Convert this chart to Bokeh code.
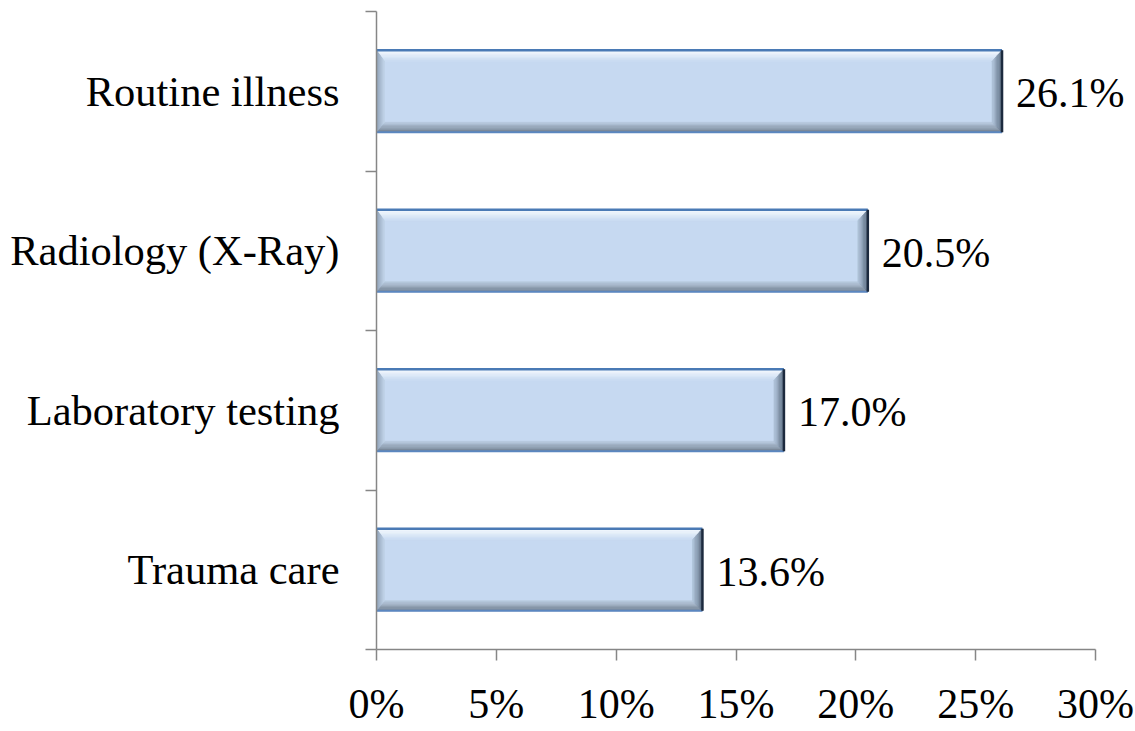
from bokeh.plotting import figure
from bokeh.models import Range1d, FixedTicker, PrintfTickFormatter
from bokeh.core.properties import value
from bokeh.embed import file_html
from bokeh.resources import INLINE

categories = ["Trauma care", "Laboratory testing", "Radiology (X-Ray)", "Routine illness"]
values = [13.6, 17.0, 20.5, 26.1]
x_ticks = [0, 5, 10, 15, 20, 25, 30]

FONT = "Liberation Serif"
FS = "42px"
FS_CAT = "42.5px"

W, H = 1134, 730
ML, MR, MT, MB = 376, 1, 11, 81
AXIS_SPAN_PX = 719          # pixel width of the 0..30 axis span
x_max = 30
n = len(categories)

px_x = AXIS_SPAN_PX / x_max
x_end = (W - ML - MR) / px_x

p = figure(width=W, height=H, output_backend="svg", toolbar_location=None,
           x_range=Range1d(0, x_end), y_range=Range1d(0, n),
           min_border_left=ML, min_border_right=MR, min_border_top=MT, min_border_bottom=MB)
p.outline_line_color = None
p.grid.visible = False
p.background_fill_color = "white"
p.border_fill_color = "white"

px_y = (H - MT - MB) / n

bar_h = 82 / px_y
centers = [i + 0.5 for i in range(n)]
lefts = [0] * n
bottoms = [c - bar_h / 2 for c in centers]
tops = [c + bar_h / 2 for c in centers]

# base fill
p.quad(left=lefts, right=values, bottom=bottoms, top=tops,
       fill_color="#c6d9f1", line_color=None)

def lerp(c1, c2, t):
    a = [int(c1[i:i + 2], 16) for i in (1, 3, 5)]
    b = [int(c2[i:i + 2], 16) for i in (1, 3, 5)]
    return "#%02x%02x%02x" % tuple(round(a[k] + (b[k] - a[k]) * t) for k in range(3))

dl, dr, dt, db = 8 / px_x, 10 / px_x, 11 / px_y, 10 / px_y
K = 8
sides = {
    "top": ("#fafdff", "#c8dbf2"),
    "bottom": ("#6e7b8b", "#b9cbe0"),
    "left": ("#8a9bb0", "#c0d3e9"),
    "right": ("#56667b", "#b3c6dc"),
}
xs, ys, cols = [], [], []
for v, b, t in zip(values, bottoms, tops):
    for side, (co, ci) in sides.items():
        for k in range(K):
            f0, f1 = k / K, (k + 1) / K
            col = lerp(co, ci, (k + 0.5) / K)
            if side == "top":
                px = [0 + f0 * dl, v - f0 * dr, v - f1 * dr, 0 + f1 * dl]
                py = [t - f0 * dt, t - f0 * dt, t - f1 * dt, t - f1 * dt]
            elif side == "bottom":
                px = [0 + f0 * dl, v - f0 * dr, v - f1 * dr, 0 + f1 * dl]
                py = [b + f0 * db, b + f0 * db, b + f1 * db, b + f1 * db]
            elif side == "left":
                px = [0 + f0 * dl, 0 + f0 * dl, 0 + f1 * dl, 0 + f1 * dl]
                py = [b + f0 * db, t - f0 * dt, t - f1 * dt, b + f1 * db]
            else:
                px = [v - f0 * dr, v - f0 * dr, v - f1 * dr, v - f1 * dr]
                py = [b + f0 * db, t - f0 * dt, t - f1 * dt, b + f1 * db]
            xs.append(px)
            ys.append(py)
            cols.append(col)
p.patches(xs, ys, fill_color=cols, line_color=cols, line_width=0.5)

# outlines
p.segment(x0=lefts, y0=tops, x1=values, y1=tops, line_color="#4a7ab5", line_width=2.5)
p.segment(x0=lefts, y0=bottoms, x1=values, y1=bottoms, line_color="#5b87c0", line_width=2)
p.segment(x0=values, y0=bottoms, x1=values, y1=tops, line_color="#1c2a3e", line_width=2.5)

# value labels
p.text(x=values, y=centers, text=[f"{v:.1f}%" for v in values],
       x_offset=14, y_offset=2, text_baseline="middle", text_align="left",
       text_font=value(FONT), text_font_size=FS, text_color="black")

AX = "#868686"
# y axis
ya = p.yaxis[0]
ya.ticker = FixedTicker(ticks=centers, minor_ticks=list(range(n + 1)))
ya.major_label_overrides = {c: lab for c, lab in zip(centers, categories)}
ya.major_tick_out = 0
ya.major_tick_in = 0
ya.minor_tick_out = 11
ya.minor_tick_in = 0
ya.minor_tick_line_color = AX
ya.minor_tick_line_width = 1.5
ya.axis_line_color = AX
ya.axis_line_width = 1.5
ya.major_label_standoff = 26
ya.major_label_text_font = FONT
ya.major_label_text_font_size = FS_CAT
ya.major_label_text_color = "black"

# x axis
xa = p.xaxis[0]
xa.bounds = (0, x_max)
xa.ticker = FixedTicker(ticks=x_ticks, minor_ticks=[])
xa.formatter = PrintfTickFormatter(format="%d%%")
xa.major_tick_out = 11
xa.major_tick_in = 0
xa.major_tick_line_color = AX
xa.major_tick_line_width = 1.5
xa.axis_line_color = AX
xa.axis_line_width = 1.5
xa.major_label_standoff = 20
xa.major_label_text_font = FONT
xa.major_label_text_font_size = FS
xa.major_label_text_color = "black"

open("out.html", "w").write(file_html(p, INLINE))
